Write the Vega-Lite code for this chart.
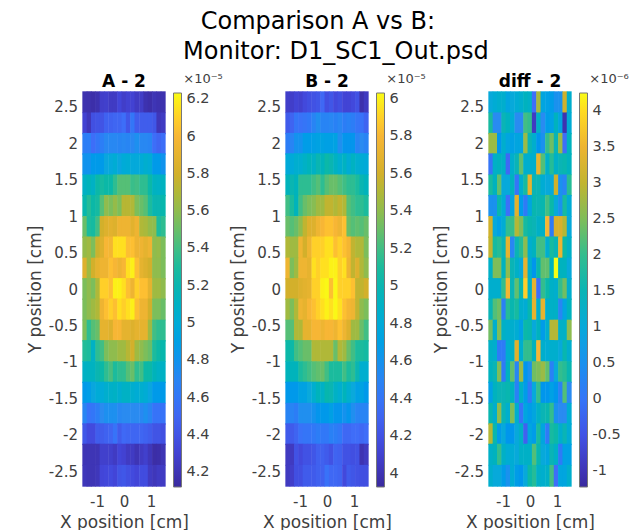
{"$schema":"https://vega.github.io/schema/vega-lite/v6.json","padding":{"left":25.5,"top":10,"right":0,"bottom":0},"bounds":"flush","spacing":120,
"title":{"text":["Comparison A vs B:","\u200b\u2003\u2002Monitor: D1_SC1_Out.psd"],"font":"DejaVu Sans","fontSize":24,"fontWeight":"normal","color":"#000","anchor":"middle","lineHeight":30,"offset":4,"dx":-10,"dy":-5},
"data":{"values":[
{"x":-1.45,"y":2.56,"a":4.18,"b":4.08,"c":1},{"x":-1.29,"y":2.56,"a":4.17,"b":4.08,"c":1.1},{"x":-1.13,"y":2.56,"a":4.16,"b":4.12,"c":1.2},{"x":-0.97,"y":2.56,"a":4.18,"b":4.1,"c":1.2},{"x":-0.81,"y":2.56,"a":4.27,"b":4.15,"c":0.9},{"x":-0.65,"y":2.56,"a":4.28,"b":4.18,"c":1},{"x":-0.48,"y":2.56,"a":4.25,"b":4.2,"c":1.1},{"x":-0.32,"y":2.56,"a":4.25,"b":4.22,"c":1.2},{"x":-0.16,"y":2.56,"a":4.32,"b":4.32,"c":1.4},{"x":0,"y":2.56,"a":4.27,"b":4.18,"c":1.3},{"x":0.16,"y":2.56,"a":4.3,"b":4.22,"c":-0.1},{"x":0.32,"y":2.56,"a":4.3,"b":4.15,"c":2.8},{"x":0.48,"y":2.56,"a":4.25,"b":4.18,"c":0.9},{"x":0.65,"y":2.56,"a":4.26,"b":4.12,"c":0.8},{"x":0.81,"y":2.56,"a":4.18,"b":4.12,"c":0.7},{"x":0.97,"y":2.56,"a":4.16,"b":4.15,"c":0.5},{"x":1.13,"y":2.56,"a":4.2,"b":4.2,"c":0.5},{"x":1.29,"y":2.56,"a":4.18,"b":3.98,"c":3.1},{"x":1.45,"y":2.56,"a":4.18,"b":4.05,"c":1.2},
{"x":-1.45,"y":2.27,"a":4.3,"b":4.25,"c":1.8},{"x":-1.29,"y":2.27,"a":4.22,"b":4.3,"c":0.4},{"x":-1.13,"y":2.27,"a":4.38,"b":4.4,"c":0.4},{"x":-0.97,"y":2.27,"a":4.4,"b":4.38,"c":1.5},{"x":-0.81,"y":2.27,"a":4.4,"b":4.4,"c":1.4},{"x":-0.65,"y":2.27,"a":4.48,"b":4.42,"c":1.1},{"x":-0.48,"y":2.27,"a":4.48,"b":4.5,"c":0.4},{"x":-0.32,"y":2.27,"a":4.5,"b":4.58,"c":0.4},{"x":-0.16,"y":2.27,"a":4.5,"b":4.5,"c":2.1},{"x":0,"y":2.27,"a":4.55,"b":4.5,"c":2},{"x":0.16,"y":2.27,"a":4.42,"b":4.52,"c":-0.9},{"x":0.32,"y":2.27,"a":4.6,"b":4.48,"c":1.3},{"x":0.48,"y":2.27,"a":4.45,"b":4.52,"c":0.4},{"x":0.65,"y":2.27,"a":4.45,"b":4.45,"c":0.7},{"x":0.81,"y":2.27,"a":4.45,"b":4.48,"c":0.8},{"x":0.97,"y":2.27,"a":4.45,"b":4.45,"c":1.4},{"x":1.13,"y":2.27,"a":4.42,"b":4.4,"c":0.9},{"x":1.29,"y":2.27,"a":4.22,"b":4.38,"c":-1.05},{"x":1.45,"y":2.27,"a":4.25,"b":4.3,"c":1.1},
{"x":-1.45,"y":1.99,"a":4.65,"b":4.45,"c":2.7},{"x":-1.29,"y":1.99,"a":4.65,"b":4.5,"c":2.7},{"x":-1.13,"y":1.99,"a":4.55,"b":4.6,"c":0.6},{"x":-0.97,"y":1.99,"a":4.6,"b":4.6,"c":1.2},{"x":-0.81,"y":1.99,"a":4.65,"b":4.68,"c":0.9},{"x":-0.65,"y":1.99,"a":4.72,"b":4.68,"c":0.8},{"x":-0.48,"y":1.99,"a":4.72,"b":4.7,"c":0.9},{"x":-0.32,"y":1.99,"a":4.72,"b":4.72,"c":0.9},{"x":-0.16,"y":1.99,"a":4.7,"b":4.72,"c":2.7},{"x":0,"y":1.99,"a":4.72,"b":4.7,"c":1.5},{"x":0.16,"y":1.99,"a":4.7,"b":4.7,"c":1.2},{"x":0.32,"y":1.99,"a":4.72,"b":4.72,"c":0.6},{"x":0.48,"y":1.99,"a":4.78,"b":4.58,"c":0.5},{"x":0.65,"y":1.99,"a":4.72,"b":4.62,"c":2},{"x":0.81,"y":1.99,"a":4.72,"b":4.62,"c":2.4},{"x":0.97,"y":1.99,"a":4.7,"b":4.62,"c":1.5},{"x":1.13,"y":1.99,"a":4.55,"b":4.5,"c":2.7},{"x":1.29,"y":1.99,"a":4.5,"b":4.55,"c":-0.1},{"x":1.45,"y":1.99,"a":4.55,"b":4.5,"c":1.4},
{"x":-1.45,"y":1.71,"a":4.8,"b":4.8,"c":0},{"x":-1.29,"y":1.71,"a":4.8,"b":4.8,"c":1.3},{"x":-1.13,"y":1.71,"a":4.85,"b":4.85,"c":1.4},{"x":-0.97,"y":1.71,"a":4.85,"b":4.85,"c":1.3},{"x":-0.81,"y":1.71,"a":4.85,"b":4.9,"c":-0.2},{"x":-0.65,"y":1.71,"a":4.95,"b":4.95,"c":1.2},{"x":-0.48,"y":1.71,"a":4.98,"b":4.9,"c":1.5},{"x":-0.32,"y":1.71,"a":5.02,"b":5,"c":2.3},{"x":-0.16,"y":1.71,"a":4.95,"b":4.95,"c":1.2},{"x":0,"y":1.71,"a":5,"b":5.05,"c":1.2},{"x":0.16,"y":1.71,"a":5.02,"b":5,"c":1.2},{"x":0.32,"y":1.71,"a":4.98,"b":4.92,"c":3.4},{"x":0.48,"y":1.71,"a":4.98,"b":4.85,"c":2.2},{"x":0.65,"y":1.71,"a":5,"b":4.92,"c":1.3},{"x":0.81,"y":1.71,"a":5.05,"b":4.82,"c":1.9},{"x":0.97,"y":1.71,"a":5.02,"b":4.92,"c":1.3},{"x":1.13,"y":1.71,"a":4.85,"b":4.85,"c":1.5},{"x":1.29,"y":1.71,"a":4.85,"b":4.82,"c":1.6},{"x":1.45,"y":1.71,"a":4.8,"b":4.8,"c":1.4},
{"x":-1.45,"y":1.42,"a":5.1,"b":4.95,"c":1.8},{"x":-1.29,"y":1.42,"a":5.15,"b":5,"c":1.4},{"x":-1.13,"y":1.42,"a":5.1,"b":4.95,"c":2.3},{"x":-0.97,"y":1.42,"a":5.25,"b":5.15,"c":1},{"x":-0.81,"y":1.42,"a":5.28,"b":5.15,"c":1},{"x":-0.65,"y":1.42,"a":5.25,"b":5.15,"c":1.4},{"x":-0.48,"y":1.42,"a":5.25,"b":5.2,"c":0},{"x":-0.32,"y":1.42,"a":5.35,"b":5.25,"c":1.2},{"x":-0.16,"y":1.42,"a":5.45,"b":5.15,"c":1.8},{"x":0,"y":1.42,"a":5.45,"b":5.25,"c":3.4},{"x":0.16,"y":1.42,"a":5.45,"b":5.3,"c":1.5},{"x":0.32,"y":1.42,"a":5.38,"b":5.3,"c":1.5},{"x":0.48,"y":1.42,"a":5.4,"b":5.25,"c":1.1},{"x":0.65,"y":1.42,"a":5.35,"b":5.2,"c":1},{"x":0.81,"y":1.42,"a":5.35,"b":5.15,"c":1},{"x":0.97,"y":1.42,"a":5.25,"b":5.15,"c":3.1},{"x":1.13,"y":1.42,"a":5.12,"b":5.1,"c":0.5},{"x":1.29,"y":1.42,"a":5.1,"b":5,"c":0.3},{"x":1.45,"y":1.42,"a":5.12,"b":4.95,"c":1.9},
{"x":-1.45,"y":1.14,"a":5.22,"b":5.2,"c":0.5},{"x":-1.29,"y":1.14,"a":5.32,"b":5.1,"c":0.5},{"x":-1.13,"y":1.14,"a":5.25,"b":4.95,"c":1.6},{"x":-0.97,"y":1.14,"a":5.28,"b":5.2,"c":1.1},{"x":-0.81,"y":1.14,"a":5.45,"b":5.3,"c":-0.1},{"x":-0.65,"y":1.14,"a":5.6,"b":5.35,"c":0.9},{"x":-0.48,"y":1.14,"a":5.55,"b":5.38,"c":3.3},{"x":-0.32,"y":1.14,"a":5.62,"b":5.45,"c":0.7},{"x":-0.16,"y":1.14,"a":5.55,"b":5.45,"c":0.1},{"x":0,"y":1.14,"a":5.72,"b":5.55,"c":0.9},{"x":0.16,"y":1.14,"a":5.72,"b":5.55,"c":1.6},{"x":0.32,"y":1.14,"a":5.7,"b":5.5,"c":1.5},{"x":0.48,"y":1.14,"a":5.55,"b":5.55,"c":1.6},{"x":0.65,"y":1.14,"a":5.5,"b":5.5,"c":2.1},{"x":0.81,"y":1.14,"a":5.45,"b":5.25,"c":1.7},{"x":0.97,"y":1.14,"a":5.3,"b":5.2,"c":1},{"x":1.13,"y":1.14,"a":5.2,"b":5.15,"c":0.5},{"x":1.29,"y":1.14,"a":5.2,"b":5.15,"c":1.8},{"x":1.45,"y":1.14,"a":5.22,"b":5.1,"c":1.1},
{"x":-1.45,"y":0.85,"a":5.5,"b":5.3,"c":3.1},{"x":-1.29,"y":0.85,"a":5.3,"b":5.25,"c":1},{"x":-1.13,"y":0.85,"a":5.28,"b":5.3,"c":0.8},{"x":-0.97,"y":0.85,"a":5.4,"b":5.4,"c":1.1},{"x":-0.81,"y":0.85,"a":5.8,"b":5.55,"c":2},{"x":-0.65,"y":0.85,"a":5.85,"b":5.65,"c":2},{"x":-0.48,"y":0.85,"a":5.88,"b":5.65,"c":2.9},{"x":-0.32,"y":0.85,"a":5.85,"b":5.75,"c":2.5},{"x":-0.16,"y":0.85,"a":5.95,"b":5.8,"c":1.8},{"x":0,"y":0.85,"a":5.95,"b":5.85,"c":1.6},{"x":0.16,"y":0.85,"a":5.95,"b":5.85,"c":1.5},{"x":0.32,"y":0.85,"a":5.88,"b":5.8,"c":1.3},{"x":0.48,"y":0.85,"a":5.95,"b":5.75,"c":1.3},{"x":0.65,"y":0.85,"a":5.7,"b":5.85,"c":3.6},{"x":0.81,"y":0.85,"a":5.68,"b":5.3,"c":0.1},{"x":0.97,"y":0.85,"a":5.62,"b":5.25,"c":3.2},{"x":1.13,"y":0.85,"a":5.6,"b":5.28,"c":3.2},{"x":1.29,"y":0.85,"a":5.3,"b":5.25,"c":2.9},{"x":1.45,"y":0.85,"a":5.35,"b":5.3,"c":1},
{"x":-1.45,"y":0.57,"a":5.62,"b":5.5,"c":3},{"x":-1.29,"y":0.57,"a":5.65,"b":5.45,"c":1.8},{"x":-1.13,"y":0.57,"a":5.55,"b":5.45,"c":1.9},{"x":-0.97,"y":0.57,"a":5.78,"b":5.75,"c":1.5},{"x":-0.81,"y":0.57,"a":5.85,"b":5.6,"c":3.4},{"x":-0.65,"y":0.57,"a":6,"b":5.75,"c":0.3},{"x":-0.48,"y":0.57,"a":5.98,"b":5.9,"c":1.5},{"x":-0.32,"y":0.57,"a":6.15,"b":5.9,"c":1.9},{"x":-0.16,"y":0.57,"a":6.15,"b":5.9,"c":2.6},{"x":0,"y":0.57,"a":6.15,"b":5.95,"c":1.2},{"x":0.16,"y":0.57,"a":6.05,"b":5.95,"c":1.4},{"x":0.32,"y":0.57,"a":6.05,"b":5.85,"c":2.1},{"x":0.48,"y":0.57,"a":5.95,"b":5.9,"c":2.1},{"x":0.65,"y":0.57,"a":5.95,"b":5.85,"c":1.2},{"x":0.81,"y":0.57,"a":5.9,"b":5.78,"c":1.8},{"x":0.97,"y":0.57,"a":5.95,"b":5.55,"c":1.5},{"x":1.13,"y":0.57,"a":5.6,"b":5.5,"c":3.5},{"x":1.29,"y":0.57,"a":5.62,"b":5.5,"c":1.7},{"x":1.45,"y":0.57,"a":5.55,"b":5.35,"c":1.3},
{"x":-1.45,"y":0.28,"a":5.85,"b":5.75,"c":1.3},{"x":-1.29,"y":0.28,"a":5.65,"b":5.35,"c":2.5},{"x":-1.13,"y":0.28,"a":5.8,"b":5.45,"c":2.5},{"x":-0.97,"y":0.28,"a":5.9,"b":5.75,"c":1.4},{"x":-0.81,"y":0.28,"a":5.95,"b":5.75,"c":2.6},{"x":-0.65,"y":0.28,"a":5.95,"b":5.7,"c":1.5},{"x":-0.48,"y":0.28,"a":6.05,"b":5.95,"c":1.3},{"x":-0.32,"y":0.28,"a":6,"b":5.9,"c":1},{"x":-0.16,"y":0.28,"a":5.95,"b":5.95,"c":3.4},{"x":0,"y":0.28,"a":6,"b":5.95,"c":1.2},{"x":0.16,"y":0.28,"a":6.15,"b":6,"c":0.6},{"x":0.32,"y":0.28,"a":6.2,"b":6,"c":1.6},{"x":0.48,"y":0.28,"a":6.05,"b":5.9,"c":2.3},{"x":0.65,"y":0.28,"a":5.9,"b":5.95,"c":2.3},{"x":0.81,"y":0.28,"a":5.85,"b":5.75,"c":1.4},{"x":0.97,"y":0.28,"a":5.8,"b":5.55,"c":4.3},{"x":1.13,"y":0.28,"a":5.6,"b":5.65,"c":1.4},{"x":1.29,"y":0.28,"a":5.6,"b":5.5,"c":1.4},{"x":1.45,"y":0.28,"a":5.55,"b":5.4,"c":1},
{"x":-1.45,"y":0,"a":5.55,"b":5.6,"c":1.2},{"x":-1.29,"y":0,"a":5.6,"b":5.6,"c":1.2},{"x":-1.13,"y":0,"a":5.55,"b":5.6,"c":1.2},{"x":-0.97,"y":0,"a":5.7,"b":5.65,"c":2},{"x":-0.81,"y":0,"a":6.1,"b":5.68,"c":3.6},{"x":-0.65,"y":0,"a":6.1,"b":5.7,"c":1.5},{"x":-0.48,"y":0,"a":6.05,"b":5.9,"c":2.3},{"x":-0.32,"y":0,"a":6.2,"b":5.9,"c":1.6},{"x":-0.16,"y":0,"a":6.2,"b":6,"c":3.9},{"x":0,"y":0,"a":6.15,"b":6.02,"c":1.3},{"x":0.16,"y":0,"a":6.05,"b":5.85,"c":3.4},{"x":0.32,"y":0,"a":5.95,"b":6.02,"c":-0.1},{"x":0.48,"y":0,"a":6.1,"b":5.9,"c":2},{"x":0.65,"y":0,"a":6.05,"b":5.9,"c":1.7},{"x":0.81,"y":0,"a":6.05,"b":5.9,"c":1.3},{"x":0.97,"y":0,"a":5.9,"b":5.85,"c":1.2},{"x":1.13,"y":0,"a":5.65,"b":5.55,"c":2},{"x":1.29,"y":0,"a":5.65,"b":5.55,"c":2.4},{"x":1.45,"y":0,"a":5.6,"b":5.6,"c":1.2},
{"x":-1.45,"y":-0.28,"a":5.55,"b":5.45,"c":1.5},{"x":-1.29,"y":-0.28,"a":5.6,"b":5.35,"c":2.2},{"x":-1.13,"y":-0.28,"a":5.65,"b":5.5,"c":2.4},{"x":-0.97,"y":-0.28,"a":5.7,"b":5.75,"c":0.2},{"x":-0.81,"y":-0.28,"a":5.95,"b":5.7,"c":1.9},{"x":-0.65,"y":-0.28,"a":6.05,"b":5.8,"c":1.6},{"x":-0.48,"y":-0.28,"a":6.1,"b":5.85,"c":1.8},{"x":-0.32,"y":-0.28,"a":6.05,"b":5.9,"c":1.2},{"x":-0.16,"y":-0.28,"a":6.15,"b":5.95,"c":1.1},{"x":0,"y":-0.28,"a":6.1,"b":6,"c":1.6},{"x":0.16,"y":-0.28,"a":6.15,"b":5.95,"c":3.4},{"x":0.32,"y":-0.28,"a":6.2,"b":6.02,"c":1.2},{"x":0.48,"y":-0.28,"a":6.05,"b":5.95,"c":3.4},{"x":0.65,"y":-0.28,"a":5.95,"b":5.85,"c":1.2},{"x":0.81,"y":-0.28,"a":5.95,"b":5.78,"c":1.3},{"x":0.97,"y":-0.28,"a":5.8,"b":5.75,"c":1.3},{"x":1.13,"y":-0.28,"a":5.55,"b":5.55,"c":0.3},{"x":1.29,"y":-0.28,"a":5.55,"b":5.4,"c":0.9},{"x":1.45,"y":-0.28,"a":5.5,"b":5.35,"c":1.4},
{"x":-1.45,"y":-0.57,"a":5.55,"b":5.25,"c":2.4},{"x":-1.29,"y":-0.57,"a":5.35,"b":5.25,"c":1.2},{"x":-1.13,"y":-0.57,"a":5.45,"b":5.5,"c":2.5},{"x":-0.97,"y":-0.57,"a":5.5,"b":5.5,"c":1.3},{"x":-0.81,"y":-0.57,"a":5.9,"b":5.7,"c":1.2},{"x":-0.65,"y":-0.57,"a":5.9,"b":5.7,"c":1.2},{"x":-0.48,"y":-0.57,"a":5.85,"b":5.8,"c":1.1},{"x":-0.32,"y":-0.57,"a":6,"b":5.8,"c":0.8},{"x":-0.16,"y":-0.57,"a":6,"b":5.75,"c":1.7},{"x":0,"y":-0.57,"a":5.9,"b":5.8,"c":1.6},{"x":0.16,"y":-0.57,"a":5.9,"b":5.8,"c":1},{"x":0.32,"y":-0.57,"a":5.85,"b":5.75,"c":1.4},{"x":0.48,"y":-0.57,"a":5.9,"b":5.85,"c":0.7},{"x":0.65,"y":-0.57,"a":5.9,"b":5.75,"c":1.2},{"x":0.81,"y":-0.57,"a":5.9,"b":5.65,"c":2.9},{"x":0.97,"y":-0.57,"a":5.65,"b":5.45,"c":2.9},{"x":1.13,"y":-0.57,"a":5.4,"b":5.45,"c":1.3},{"x":1.29,"y":-0.57,"a":5.35,"b":5.3,"c":1.3},{"x":1.45,"y":-0.57,"a":5.35,"b":5.2,"c":2.6},
{"x":-1.45,"y":-0.85,"a":5.32,"b":5.05,"c":1.3},{"x":-1.29,"y":-0.85,"a":5.3,"b":5.05,"c":1.2},{"x":-1.13,"y":-0.85,"a":5.1,"b":5.2,"c":0.1},{"x":-0.97,"y":-0.85,"a":5.35,"b":5.25,"c":0.1},{"x":-0.81,"y":-0.85,"a":5.4,"b":5.3,"c":1.2},{"x":-0.65,"y":-0.85,"a":5.55,"b":5.3,"c":1.3},{"x":-0.48,"y":-0.85,"a":5.6,"b":5.5,"c":3.3},{"x":-0.32,"y":-0.85,"a":5.6,"b":5.5,"c":1.2},{"x":-0.16,"y":-0.85,"a":5.65,"b":5.5,"c":2},{"x":0,"y":-0.85,"a":5.65,"b":5.5,"c":2},{"x":0.16,"y":-0.85,"a":5.72,"b":5.5,"c":1.4},{"x":0.32,"y":-0.85,"a":5.8,"b":5.3,"c":3.6},{"x":0.48,"y":-0.85,"a":5.65,"b":5.5,"c":1.2},{"x":0.65,"y":-0.85,"a":5.6,"b":5.45,"c":1.1},{"x":0.81,"y":-0.85,"a":5.55,"b":5.3,"c":1.2},{"x":0.97,"y":-0.85,"a":5.5,"b":5.2,"c":1.2},{"x":1.13,"y":-0.85,"a":5.3,"b":5.1,"c":1},{"x":1.29,"y":-0.85,"a":5.25,"b":5.1,"c":1.6},{"x":1.45,"y":-0.85,"a":5.22,"b":5.08,"c":1.2},
{"x":-1.45,"y":-1.14,"a":5.1,"b":4.95,"c":1.4},{"x":-1.29,"y":-1.14,"a":5.12,"b":4.95,"c":1.5},{"x":-1.13,"y":-1.14,"a":5.12,"b":4.95,"c":2.5},{"x":-0.97,"y":-1.14,"a":5.2,"b":5.1,"c":0.1},{"x":-0.81,"y":-1.14,"a":5.25,"b":5.15,"c":1.4},{"x":-0.65,"y":-1.14,"a":5.35,"b":5.2,"c":2.3},{"x":-0.48,"y":-1.14,"a":5.42,"b":5.25,"c":0.3},{"x":-0.32,"y":-1.14,"a":5.3,"b":5.28,"c":2.7},{"x":-0.16,"y":-1.14,"a":5.35,"b":5.3,"c":0.6},{"x":0,"y":-1.14,"a":5.35,"b":5.2,"c":0.5},{"x":0.16,"y":-1.14,"a":5.45,"b":5.1,"c":2.4},{"x":0.32,"y":-1.14,"a":5.5,"b":5.1,"c":2.5},{"x":0.48,"y":-1.14,"a":5.35,"b":5.1,"c":2.7},{"x":0.65,"y":-1.14,"a":5.4,"b":5.2,"c":2.3},{"x":0.81,"y":-1.14,"a":5.25,"b":5.1,"c":0.2},{"x":0.97,"y":-1.14,"a":5.25,"b":5.15,"c":1},{"x":1.13,"y":-1.14,"a":5.15,"b":5,"c":2},{"x":1.29,"y":-1.14,"a":5.1,"b":4.85,"c":1.9},{"x":1.45,"y":-1.14,"a":5.1,"b":4.85,"c":1.6},
{"x":-1.45,"y":-1.42,"a":4.85,"b":4.65,"c":0.8},{"x":-1.29,"y":-1.42,"a":4.88,"b":4.65,"c":1.4},{"x":-1.13,"y":-1.42,"a":4.95,"b":4.65,"c":1.5},{"x":-0.97,"y":-1.42,"a":5,"b":4.72,"c":1.5},{"x":-0.81,"y":-1.42,"a":5,"b":4.72,"c":1.6},{"x":-0.65,"y":-1.42,"a":5.05,"b":4.78,"c":1.4},{"x":-0.48,"y":-1.42,"a":5.08,"b":4.85,"c":0.2},{"x":-0.32,"y":-1.42,"a":5.1,"b":4.95,"c":1.3},{"x":-0.16,"y":-1.42,"a":5.05,"b":4.9,"c":0.7},{"x":0,"y":-1.42,"a":5.1,"b":5.02,"c":0.1},{"x":0.16,"y":-1.42,"a":5.1,"b":5,"c":1},{"x":0.32,"y":-1.42,"a":5.05,"b":4.9,"c":2},{"x":0.48,"y":-1.42,"a":5.02,"b":4.85,"c":0.6},{"x":0.65,"y":-1.42,"a":5.05,"b":4.95,"c":0.6},{"x":0.81,"y":-1.42,"a":5.02,"b":4.85,"c":0.8},{"x":0.97,"y":-1.42,"a":4.95,"b":4.78,"c":0.6},{"x":1.13,"y":-1.42,"a":4.85,"b":4.7,"c":0.2},{"x":1.29,"y":-1.42,"a":4.85,"b":4.72,"c":2.2},{"x":1.45,"y":-1.42,"a":4.85,"b":4.65,"c":0.4},
{"x":-1.45,"y":-1.71,"a":4.7,"b":4.5,"c":1.6},{"x":-1.29,"y":-1.71,"a":4.58,"b":4.5,"c":1.2},{"x":-1.13,"y":-1.71,"a":4.6,"b":4.45,"c":2.6},{"x":-0.97,"y":-1.71,"a":4.65,"b":4.58,"c":1.5},{"x":-0.81,"y":-1.71,"a":4.75,"b":4.58,"c":1.2},{"x":-0.65,"y":-1.71,"a":4.78,"b":4.58,"c":2.5},{"x":-0.48,"y":-1.71,"a":4.78,"b":4.6,"c":1.2},{"x":-0.32,"y":-1.71,"a":4.78,"b":4.62,"c":0},{"x":-0.16,"y":-1.71,"a":4.72,"b":4.65,"c":0.9},{"x":0,"y":-1.71,"a":4.75,"b":4.65,"c":0.7},{"x":0.16,"y":-1.71,"a":4.75,"b":4.7,"c":0.9},{"x":0.32,"y":-1.71,"a":4.75,"b":4.62,"c":1.3},{"x":0.48,"y":-1.71,"a":4.75,"b":4.62,"c":1.5},{"x":0.65,"y":-1.71,"a":4.72,"b":4.6,"c":1.6},{"x":0.81,"y":-1.71,"a":4.78,"b":4.62,"c":2},{"x":0.97,"y":-1.71,"a":4.7,"b":4.58,"c":0.5},{"x":1.13,"y":-1.71,"a":4.58,"b":4.5,"c":0.4},{"x":1.29,"y":-1.71,"a":4.58,"b":4.5,"c":0.4},{"x":1.45,"y":-1.71,"a":4.58,"b":4.5,"c":1.1},
{"x":-1.45,"y":-1.99,"a":4.42,"b":4.25,"c":2.9},{"x":-1.29,"y":-1.99,"a":4.35,"b":4.25,"c":1.6},{"x":-1.13,"y":-1.99,"a":4.35,"b":4.3,"c":0.7},{"x":-0.97,"y":-1.99,"a":4.45,"b":4.38,"c":1},{"x":-0.81,"y":-1.99,"a":4.45,"b":4.4,"c":0.6},{"x":-0.65,"y":-1.99,"a":4.48,"b":4.4,"c":0.6},{"x":-0.48,"y":-1.99,"a":4.5,"b":4.42,"c":1},{"x":-0.32,"y":-1.99,"a":4.58,"b":4.45,"c":1.3},{"x":-0.16,"y":-1.99,"a":4.45,"b":4.42,"c":-0.3},{"x":0,"y":-1.99,"a":4.52,"b":4.42,"c":0.9},{"x":0.16,"y":-1.99,"a":4.5,"b":4.48,"c":0.7},{"x":0.32,"y":-1.99,"a":4.5,"b":4.45,"c":1.8},{"x":0.48,"y":-1.99,"a":4.5,"b":4.42,"c":0.9},{"x":0.65,"y":-1.99,"a":4.5,"b":4.32,"c":0.1},{"x":0.81,"y":-1.99,"a":4.48,"b":4.32,"c":1.8},{"x":0.97,"y":-1.99,"a":4.45,"b":4.35,"c":1.7},{"x":1.13,"y":-1.99,"a":4.4,"b":4.35,"c":1.2},{"x":1.29,"y":-1.99,"a":4.4,"b":4.32,"c":1.5},{"x":1.45,"y":-1.99,"a":4.38,"b":4.35,"c":1.1},
{"x":-1.45,"y":-2.27,"a":4.2,"b":4.05,"c":1.3},{"x":-1.29,"y":-2.27,"a":4.2,"b":4.05,"c":1.4},{"x":-1.13,"y":-2.27,"a":4.2,"b":4.2,"c":2},{"x":-0.97,"y":-2.27,"a":4.2,"b":4.15,"c":1.3},{"x":-0.81,"y":-2.27,"a":4.28,"b":4.2,"c":1.1},{"x":-0.65,"y":-2.27,"a":4.28,"b":4.2,"c":1.1},{"x":-0.48,"y":-2.27,"a":4.28,"b":4.22,"c":1},{"x":-0.32,"y":-2.27,"a":4.25,"b":4.28,"c":1.3},{"x":-0.16,"y":-2.27,"a":4.32,"b":4.28,"c":1.3},{"x":0,"y":-2.27,"a":4.3,"b":4.25,"c":1.3},{"x":0.16,"y":-2.27,"a":4.25,"b":4.2,"c":2.2},{"x":0.32,"y":-2.27,"a":4.25,"b":4.3,"c":1.6},{"x":0.48,"y":-2.27,"a":4.2,"b":4.28,"c":1},{"x":0.65,"y":-2.27,"a":4.25,"b":4.2,"c":0.9},{"x":0.81,"y":-2.27,"a":4.28,"b":4.2,"c":1.5},{"x":0.97,"y":-2.27,"a":4.22,"b":4.18,"c":1.3},{"x":1.13,"y":-2.27,"a":4.15,"b":4.2,"c":0.1},{"x":1.29,"y":-2.27,"a":4.16,"b":4,"c":0.8},{"x":1.45,"y":-2.27,"a":4.2,"b":4.05,"c":0.8},
{"x":-1.45,"y":-2.56,"a":4.22,"b":4.05,"c":1.2},{"x":-1.29,"y":-2.56,"a":4.2,"b":4.08,"c":1},{"x":-1.13,"y":-2.56,"a":4.2,"b":4.18,"c":1},{"x":-0.97,"y":-2.56,"a":4.22,"b":4.18,"c":0.7},{"x":-0.81,"y":-2.56,"a":4.32,"b":4.25,"c":0.5},{"x":-0.65,"y":-2.56,"a":4.33,"b":4.25,"c":1.1},{"x":-0.48,"y":-2.56,"a":4.35,"b":4.25,"c":0.7},{"x":-0.32,"y":-2.56,"a":4.32,"b":4.28,"c":0.6},{"x":-0.16,"y":-2.56,"a":4.4,"b":4.28,"c":1},{"x":0,"y":-2.56,"a":4.42,"b":4.38,"c":1.7},{"x":0.16,"y":-2.56,"a":4.38,"b":4.32,"c":1.9},{"x":0.32,"y":-2.56,"a":4.35,"b":4.32,"c":1.3},{"x":0.48,"y":-2.56,"a":4.32,"b":4.3,"c":1.2},{"x":0.65,"y":-2.56,"a":4.36,"b":4.15,"c":1.3},{"x":0.81,"y":-2.56,"a":4.36,"b":4.25,"c":2.1},{"x":0.97,"y":-2.56,"a":4.25,"b":4.22,"c":-0.1},{"x":1.13,"y":-2.56,"a":4.22,"b":4.2,"c":0.9},{"x":1.29,"y":-2.56,"a":4.25,"b":4.18,"c":0.9},{"x":1.45,"y":-2.56,"a":4.25,"b":4.18,"c":1.2}
]},
"config":{"font":"DejaVu Sans","axis":{"labelColor":"#404040","titleColor":"#404040","labelFont":"DejaVu Sans","titleFont":"DejaVu Sans","labelFontSize":15,"titleFontSize":17,"titleFontWeight":"normal","grid":false,"domain":false,"ticks":false,"labelOverlap":false},"axisX":{"labelPadding":8,"titlePadding":5},"axisY":{"labelPadding":5,"titlePadding":4},"legend":{"labelFont":"DejaVu Sans","titleFont":"DejaVu Sans","labelColor":"#404040","titleColor":"#404040","labelFontSize":14.5,"titleFontSize":13,"titleFontWeight":"normal"},"title":{"font":"DejaVu Sans"},"view":{"stroke":null}},
"hconcat":[
{"width":83,"height":394,"title":{"text":"A - 2","fontSize":17,"fontWeight":"bold","color":"#000","offset":-18},
"mark":{"type":"rect","width":4.9,"height":21.8},
"encoding":{"x":{"field":"x","type":"quantitative","scale":{"domain":[-1.535,1.535],"nice":false},"axis":{"values":[-1,0,1],"title":"X position [cm]","labelExpr":"replace(format(datum.value,'.1~f'),'\u2212','-')"}},"y":{"field":"y","type":"quantitative","scale":{"domain":[-2.7,2.7],"nice":false},"axis":{"values":[-2.5,-2,-1.5,-1,-0.5,0,0.5,1,1.5,2,2.5],"title":"Y position [cm]","labelExpr":"replace(format(datum.value,'.1~f'),'\u2212','-')"}},
"color":{"field":"a","type":"quantitative","scale":{"domain":[4.12,6.234],"range":["#3A2A9E","#4247DB","#3F6DF8","#2A8CF0","#14A8DC","#10B4B4","#3CBE88","#8FBC4E","#D6AF2B","#FBB736","#F9FB15"]},"legend":{"orient":"none","legendX":91,"legendY":-19,"title":"\u200b\u2002\u2005×10⁻⁵","gradientLength":394,"gradientThickness":8,"values":[4.2,4.4,4.6,4.8,5,5.2,5.4,5.6,5.8,6,6.2],"labelExpr":"replace(format(datum.value,'.1~f'),'\u2212','-')","gradientStrokeColor":"#777","gradientStrokeWidth":1,"titlePadding":7,"labelOffset":5}}}},
{"width":83,"height":394,"title":{"text":"B - 2","fontSize":17,"fontWeight":"bold","color":"#000","offset":-18},
"mark":{"type":"rect","width":4.9,"height":21.8},
"encoding":{"x":{"field":"x","type":"quantitative","scale":{"domain":[-1.535,1.535],"nice":false},"axis":{"values":[-1,0,1],"title":"X position [cm]","labelExpr":"replace(format(datum.value,'.1~f'),'\u2212','-')"}},"y":{"field":"y","type":"quantitative","scale":{"domain":[-2.7,2.7],"nice":false},"axis":{"values":[-2.5,-2,-1.5,-1,-0.5,0,0.5,1,1.5,2,2.5],"title":"Y position [cm]","labelExpr":"replace(format(datum.value,'.1~f'),'\u2212','-')"}},
"color":{"field":"b","type":"quantitative","scale":{"domain":[3.93,6.03],"range":["#3A2A9E","#4247DB","#3F6DF8","#2A8CF0","#14A8DC","#10B4B4","#3CBE88","#8FBC4E","#D6AF2B","#FBB736","#F9FB15"]},"legend":{"orient":"none","legendX":91,"legendY":-19,"title":"\u200b\u2002\u2005×10⁻⁵","gradientLength":394,"gradientThickness":8,"values":[4,4.2,4.4,4.6,4.8,5,5.2,5.4,5.6,5.8,6],"labelExpr":"replace(format(datum.value,'.1~f'),'\u2212','-')","gradientStrokeColor":"#777","gradientStrokeWidth":1,"titlePadding":7,"labelOffset":5}}}},
{"width":83,"height":394,"title":{"text":"diff - 2","fontSize":17,"fontWeight":"bold","color":"#000","offset":-18},
"mark":{"type":"rect","width":4.9,"height":21.8},
"encoding":{"x":{"field":"x","type":"quantitative","scale":{"domain":[-1.535,1.535],"nice":false},"axis":{"values":[-1,0,1],"title":"X position [cm]","labelExpr":"replace(format(datum.value,'.1~f'),'\u2212','-')"}},"y":{"field":"y","type":"quantitative","scale":{"domain":[-2.7,2.7],"nice":false},"axis":{"values":[-2.5,-2,-1.5,-1,-0.5,0,0.5,1,1.5,2,2.5],"title":"Y position [cm]","labelExpr":"replace(format(datum.value,'.1~f'),'\u2212','-')"}},
"color":{"field":"c","type":"quantitative","scale":{"domain":[-1.22,4.25],"range":["#3A2A9E","#4247DB","#3F6DF8","#2A8CF0","#14A8DC","#10B4B4","#3CBE88","#8FBC4E","#D6AF2B","#FBB736","#F9FB15"]},"legend":{"orient":"none","legendX":91,"legendY":-19,"title":"\u200b\u2002\u2005×10⁻⁶","gradientLength":394,"gradientThickness":8,"values":[-1,-0.5,0,0.5,1,1.5,2,2.5,3,3.5,4],"labelExpr":"replace(format(datum.value,'.1~f'),'\u2212','-')","gradientStrokeColor":"#777","gradientStrokeWidth":1,"titlePadding":7,"labelOffset":5}}}}
],"resolve":{"scale":{"color":"independent"}}}
